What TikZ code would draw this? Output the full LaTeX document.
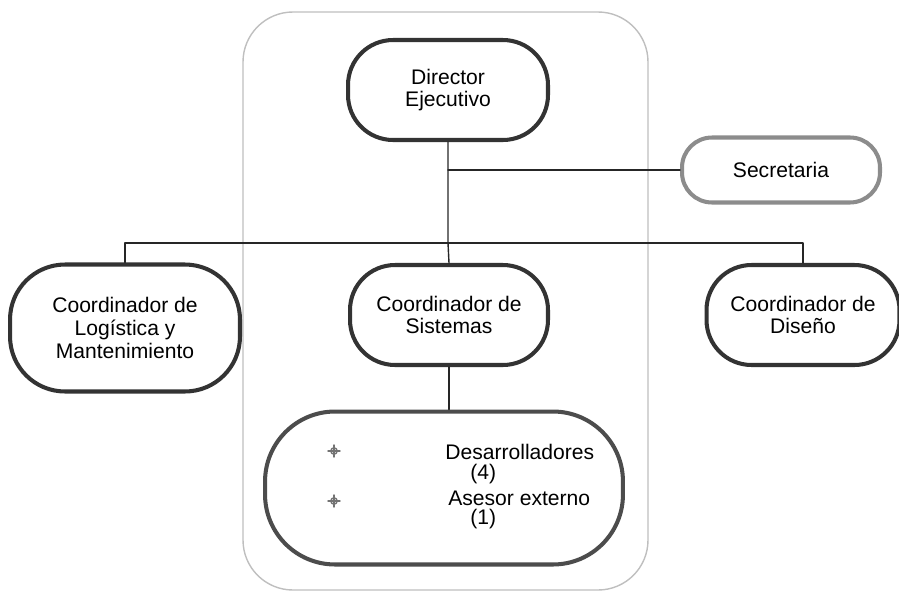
\documentclass[tikz,border=0pt]{standalone}
\usepackage{fontspec}
\setmainfont{Liberation Sans}
\begin{document}
\begin{tikzpicture}[x=0.02cm,y=-0.02cm,line join=round,line cap=round,
	cargo/.style={draw=black!80,line width=2.3pt,fill=white,align=center,rounded corners=0.9cm,
		minimum width=3.96cm,minimum height=2cm,font=\fontsize{12}{13}\selectfont},
	linea/.style={draw=black!85,line width=0.8pt},
	vineta/.style={draw=black!55,line width=0.8pt}]
	\useasboundingbox (0,0) rectangle (899,602);
	\draw[black!25,line width=0.8pt,rounded corners=1cm] (243,12) rectangle (648,590);
	\node[cargo,minimum width=4cm] (dir) at (448,90) {Director\\Ejecutivo};
	\node[cargo,draw=black!45,minimum height=1.3cm,rounded corners=0.6cm] (sec) at (781,170) {Secretaria};
	\node[cargo,minimum width=4.6cm,minimum height=2.54cm,rounded corners=1.1cm] (log) at (125,328) {Coordinador de\\Logística y\\Mantenimiento};
	\node[cargo] (sis) at (449,315) {Coordinador de\\Sistemas};
	\node[cargo,minimum width=3.86cm] (dis) at (803,315) {Coordinador de\\Diseño};
	\node[cargo,draw=black!70,minimum width=7.16cm,minimum height=3.06cm,rounded corners=1.4cm] (equipo) at (444,488) {};
	\coordinate (bus) at (448,243);
	\draw[linea] (dir.south) -- (bus) -- (sis.north);
	\draw[linea] (dir |- sec) -- (sec.west);
	\draw[linea] (log.north) |- (bus) -| (dis.north);
	\draw[linea] (sis.south) -- (equipo.north -| sis.south);
	\foreach \y in {451,501} {
		\draw[vineta] (334,\y) circle (3.2);
		\draw[vineta] (328,\y) -- (340,\y) (334,\y-6) -- (334,\y+6);
	}
	\begin{scope}[every node/.style={anchor=west,inner sep=0pt,font=\fontsize{12}{13}\selectfont}]
		\node (des) at (445,452) {Desarrolladores};
		\node (ndes) at (470,474) {(4)};
		\node (ase) at (448,498) {Asesor externo};
		\node (nase) at (470,519) {(1)};
	\end{scope}
\end{tikzpicture}
\end{document}
